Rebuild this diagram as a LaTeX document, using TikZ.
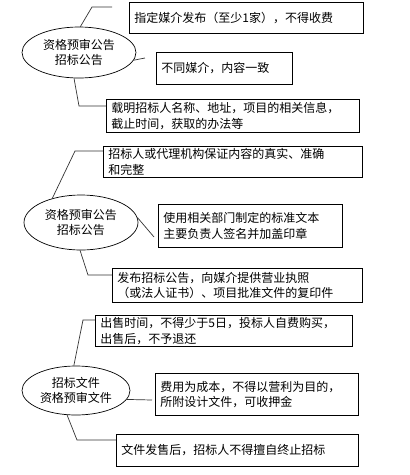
\documentclass[tikz,border=0pt]{standalone}
\usepackage{fontspec}
\setmainfont{Noto Sans CJK SC}
\usetikzlibrary{shapes.geometric}

\tikzset{
  topic/.style={ellipse, draw, line width=0.7pt, inner sep=0pt,
    minimum width=114pt, minimum height=51pt, align=center},
  note/.style={draw, line width=0.7pt, anchor=north west, align=left,
    inner xsep=5pt, inner ysep=1pt},
  link/.style={draw=black!80, line width=0.7pt}
}

\begin{document}
\begin{tikzpicture}[x=1pt, y=-1pt, font=\fontsize{12pt}{15.5pt}\selectfont]
\useasboundingbox (0,0) rectangle (410,475);

% first group
\node[topic] (gong1) at (79,52.5) {资格预审公告\\招标公告};
\node[note, text width=224pt, minimum height=31pt] (mei) at (129,2) {指定媒介发布（至少1家），不得收费};
\node[note, text width=126pt, minimum height=32pt] (yizhi) at (156,52) {不同媒介，内容一致};
\node[note, text width=243pt, minimum height=33pt] (zaiming) at (106,99) {载明招标人名称、地址，项目的相关信息，\\截止时间，获取的办法等};
\coordinate (mei-k) at (92,7);
\coordinate (mei-e) at (112,7);
\coordinate (yizhi-e) at (145,58);
\coordinate (zaiming-k) at (79,106);
\draw[link] (gong1.87) -- (mei-k) -- (mei-e);
\draw[link] (gong1.-8) -- (yizhi-e);
\draw[link] (gong1.-101) -- (zaiming-k) -- (zaiming.west |- zaiming-k);

% second group
\node[topic, minimum height=55pt] (gong2) at (81,222.5) {资格预审公告\\招标公告};
\node[note, text width=249pt, minimum height=31pt] (zhenshi) at (103,146) {招标人或代理机构保证内容的真实、准确\\和完整};
\node[note, text width=174pt, minimum height=43pt] (biaozhun) at (158,204) {使用相关部门制定的标准文本\\主要负责人签名并加盖印章};
\node[note, text width=240pt, minimum height=34pt] (fabu) at (112,268) {发布招标公告，向媒介提供营业执照\\（或法人证书）、项目批准文件的复印件};
\coordinate (zhenshi-k) at (75,151);
\coordinate (biaozhun-e) at (154,237);
\coordinate (fabu-k) at (88,275);
\draw[link] (gong2.140) -- (zhenshi-k) -- (zhenshi.west |- zhenshi-k);
\draw[link] (gong2.5) -- (biaozhun-e);
\draw[link] (gong2.-92) -- (fabu-k) -- (fabu.west |- fabu-k);

% third group
\node[topic, minimum width=108pt, minimum height=49pt] (wenjian) at (76,390.5) {招标文件\\资格预审文件};
\node[note, text width=247pt, minimum height=31pt] (chushou) at (95,315) {出售时间，不得少于5日，投标人自费购买，\\出售后，不予退还};
\node[note, text width=193pt, minimum height=42pt] (feiyong) at (155,373) {费用为成本，不得以营利为目的，\\所附设计文件，可收押金};
\node[note, text width=232pt, minimum height=32pt] (zhongzhi) at (116,434) {文件发售后，招标人不得擅自终止招标};
\coordinate (chushou-k) at (83,320);
\coordinate (feiyong-e) at (152,400);
\coordinate (zhongzhi-k) at (77,440);
\draw[link] (wenjian.95) -- (chushou-k) -- (chushou.west |- chushou-k);
\draw[link] (wenjian.-10) -- (feiyong-e);
\draw[link] (wenjian.-110) -- (zhongzhi-k) -- (zhongzhi.west |- zhongzhi-k);
\end{tikzpicture}
\end{document}
